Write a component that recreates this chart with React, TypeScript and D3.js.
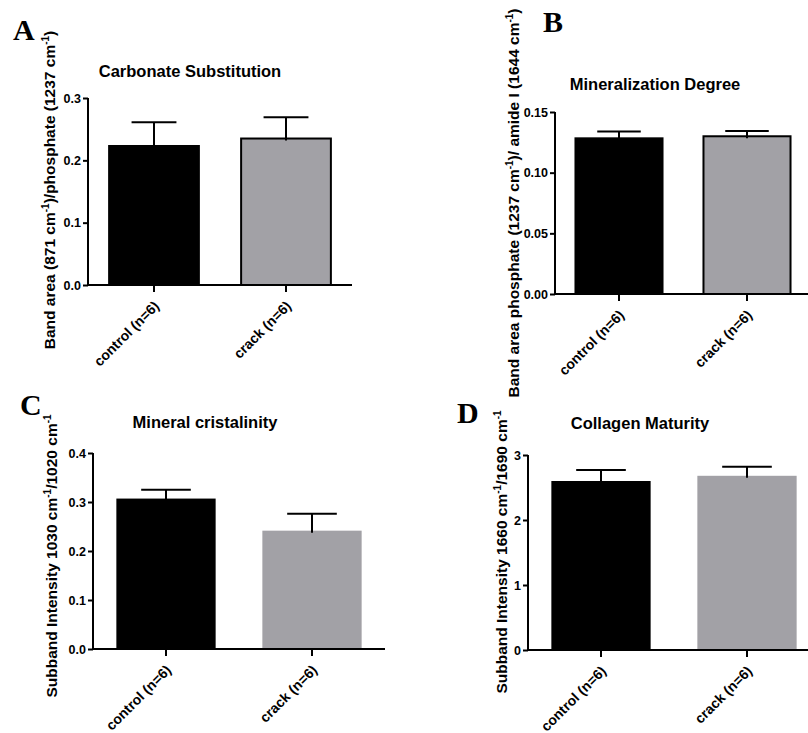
import React, { useEffect, useRef } from 'react';
import * as d3 from 'd3';

const groups = ['control (n=6)', 'crack (n=6)'];

// means and SEM
const carbonateMean = [0.223, 0.235];
const carbonateSem = [0.038, 0.034];
const mineralizationMean = [0.1283, 0.1300];
const mineralizationSem = [0.0056, 0.0044];
const crystallinityMean = [0.307, 0.2415];
const crystallinitySem = [0.018, 0.0345];
const collagenMean = [2.60, 2.68];
const collagenSem = [0.17, 0.14];

const carbonateTicks = [0, 0.1, 0.2, 0.3];
const mineralizationTicks = [0, 0.05, 0.10, 0.15];
const crystallinityTicks = [0, 0.1, 0.2, 0.3, 0.4];
const collagenTicks = [0, 1, 2, 3];

const FONT = '"Liberation Sans", Arial, sans-serif';
const SERIF = '"Liberation Serif", "Times New Roman", serif';
const GREY = '#a2a1a6';

// y label pieces: [text, superscript?]
const labelA: [string, boolean][] = [['Band area (871 cm', false], ['-1', true], [')/phosphate (1237 cm', false], ['-1', true], [')', false]];
const labelB: [string, boolean][] = [['Band area phosphate  (1237 cm', false], ['-1', true], [')/ amide I (1644 cm', false], ['-1', true], [')', false]];
const labelC: [string, boolean][] = [['Subband Intensity 1030 cm', false], ['-1', true], ['/1020 cm', false], ['-1', true]];
const labelD: [string, boolean][] = [['Subband Intensity 1660 cm', false], ['-1', true], ['/1690 cm', false], ['-1', true]];

const panels = [
    { letter: 'A', lx: 13, ly: 40, title: 'Carbonate Substitution', tx: 190, ty: 77,
      x0: 88, step: 132, top: 98, bottom: 285, max: 0.3, ticks: carbonateTicks, fmt: '.1f',
      mean: carbonateMean, sem: carbonateSem, border: true, label: labelA, yx: 55, yy: 190 },
    { letter: 'B', lx: 543, ly: 32, title: 'Mineralization Degree', tx: 655, ty: 90,
      x0: 555, step: 128, top: 112, bottom: 294, max: 0.15, ticks: mineralizationTicks, fmt: '.2f',
      mean: mineralizationMean, sem: mineralizationSem, border: true, label: labelB, yx: 519, yy: 203 },
    { letter: 'C', lx: 20, ly: 415, title: 'Mineral cristalinity', tx: 205, ty: 428,
      x0: 93, step: 146, top: 453, bottom: 649, max: 0.4, ticks: crystallinityTicks, fmt: '.1f',
      mean: crystallinityMean, sem: crystallinitySem, border: false, label: labelC, yx: 57, yy: 556 },
    { letter: 'D', lx: 457, ly: 423, title: 'Collagen Maturity', tx: 640, ty: 429,
      x0: 528, step: 146, top: 455, bottom: 650, max: 3, ticks: collagenTicks, fmt: 'd',
      mean: collagenMean, sem: collagenSem, border: false, label: labelD, yx: 507, yy: 552 },
];

export default function App() {
    const svgRef = useRef<SVGSVGElement>(null);

    useEffect(() => {
        const svg = d3.select(svgRef.current);
        svg.selectAll('*').remove();

        panels.forEach(p => {
            const g = svg.append('g');
            const x = d3.scaleBand<string>()
                .domain(groups)
                .range([p.x0, p.x0 + p.step * groups.length])
                .paddingInner(0.32)
                .paddingOuter(0.16);
            const y = d3.scaleLinear().domain([0, p.max]).range([p.bottom, p.top]);
            const bw = x.bandwidth();

            // bars
            g.selectAll('.bar')
                .data(groups)
                .enter().append('rect')
                .attr('x', d => x(d)!)
                .attr('y', (d, i) => y(p.mean[i]))
                .attr('width', bw)
                .attr('height', (d, i) => y(0) - y(p.mean[i]))
                .attr('fill', (d, i) => i === 0 ? '#000' : GREY)
                .attr('stroke', p.border ? '#000' : 'none')
                .attr('stroke-width', 2);

            // error bars (upper half only)
            groups.forEach((d, i) => {
                const cx = x(d)! + bw / 2;
                g.append('line')
                    .attr('x1', cx).attr('x2', cx)
                    .attr('y1', y(p.mean[i]) + 2).attr('y2', y(p.mean[i] + p.sem[i]))
                    .attr('stroke', '#000').attr('stroke-width', 2);
                g.append('line')
                    .attr('x1', cx - bw / 4).attr('x2', cx + bw / 4)
                    .attr('y1', y(p.mean[i] + p.sem[i])).attr('y2', y(p.mean[i] + p.sem[i]))
                    .attr('stroke', '#000').attr('stroke-width', 2);
            });

            // y axis
            const yAxis = g.append('g')
                .attr('transform', `translate(${p.x0},0)`)
                .call(d3.axisLeft(y).tickValues(p.ticks).tickFormat(d3.format(p.fmt)).tickSize(5).tickPadding(2));
            yAxis.select('.domain').attr('stroke-width', 2).attr('d', `M0,${p.top}V${p.bottom}`);
            yAxis.selectAll('.tick line').attr('stroke-width', 2);
            yAxis.selectAll('.tick text')
                .attr('font-family', FONT).attr('font-weight', 'bold').attr('font-size', 12.5).attr('fill', '#000');

            // x axis
            const xAxis = g.append('g')
                .attr('transform', `translate(0,${p.bottom})`)
                .call(d3.axisBottom(x).tickSize(7).tickSizeOuter(0));
            xAxis.select('.domain').attr('stroke-width', 2).attr('d', `M${p.x0 - 1},0H${p.x0 + p.step * groups.length}`);
            xAxis.selectAll('.tick line').attr('stroke-width', 2);
            xAxis.selectAll('.tick text')
                .attr('font-family', FONT).attr('font-weight', 'bold').attr('font-size', 14).attr('fill', '#000')
                .attr('text-anchor', 'end')
                .attr('y', 0).attr('dy', 0)
                .attr('transform', 'translate(6,22) rotate(-45)');

            // title
            g.append('text')
                .attr('x', p.tx).attr('y', p.ty)
                .attr('text-anchor', 'middle')
                .attr('font-family', FONT).attr('font-weight', 'bold').attr('font-size', 16.5)
                .text(p.title);

            // y label
            const yl = g.append('text')
                .attr('transform', `translate(${p.yx},${p.yy}) rotate(-90)`)
                .attr('text-anchor', 'middle')
                .attr('font-family', FONT).attr('font-weight', 'bold').attr('font-size', 15.5);
            p.label.forEach(([t, sup], k) => {
                const prevSup = k > 0 && p.label[k - 1][1];
                yl.append('tspan')
                    .attr('font-size', sup ? 10 : 15.5)
                    .attr('dy', sup ? -6 : (prevSup ? 6 : 0))
                    .text(t);
            });

            // panel letter
            g.append('text')
                .attr('x', p.lx).attr('y', p.ly)
                .attr('font-family', SERIF).attr('font-weight', 'bold').attr('font-size', 30)
                .text(p.letter);
        });
    }, []);

    return (
        <div style={{ position: 'absolute', left: 0, top: 0, width: 808, height: 733, background: '#fff' }}>
            <svg ref={svgRef} width={808} height={733} style={{ display: 'block' }} />
        </div>
    );
}
